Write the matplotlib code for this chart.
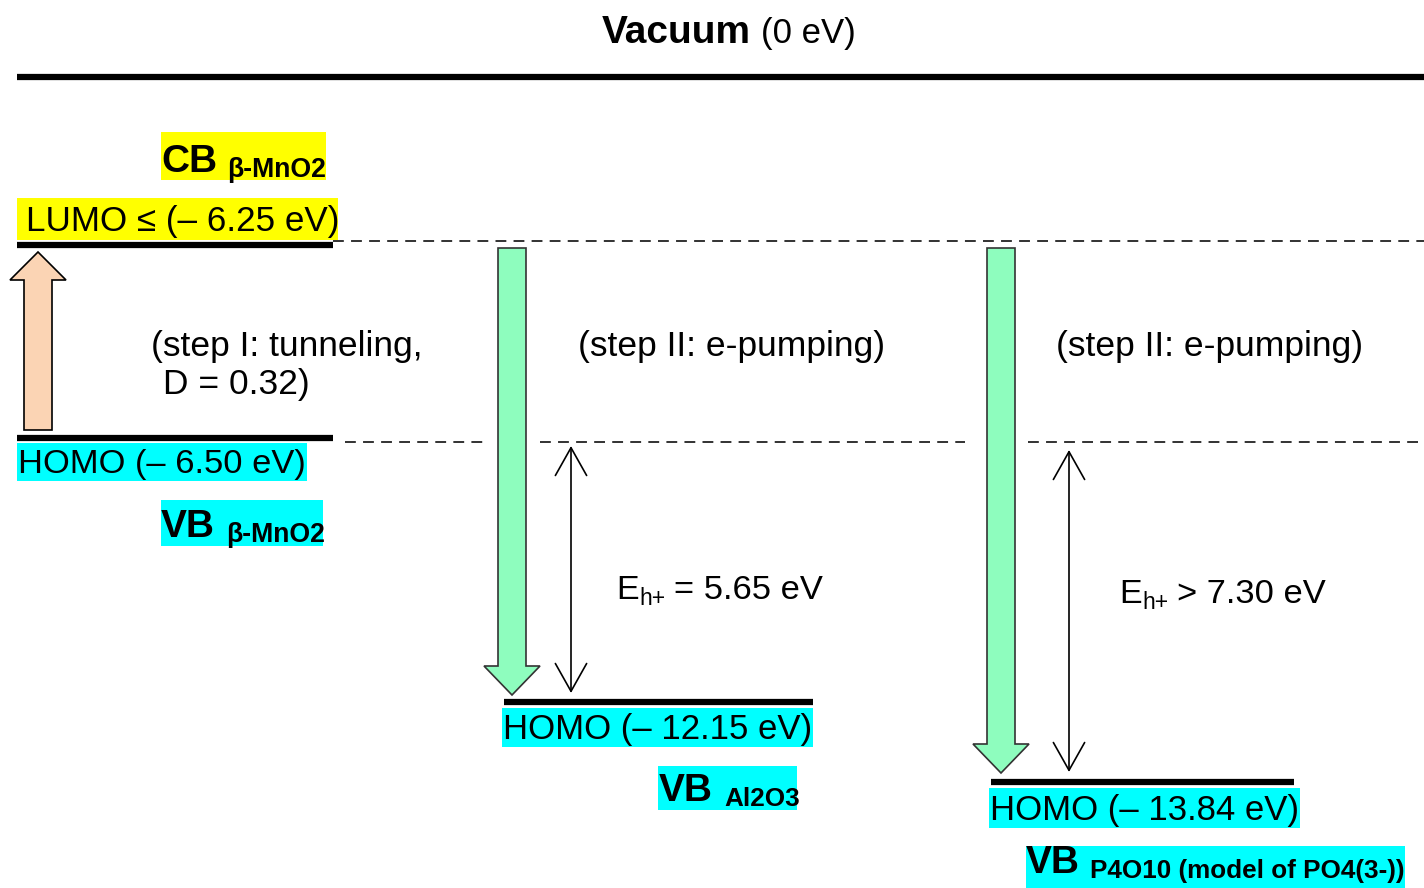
import matplotlib
matplotlib.use("Agg")
import matplotlib.pyplot as plt
from matplotlib.patches import Rectangle, FancyArrow

plt.rcParams['font.family'] = ['Liberation Sans', 'DejaVu Sans']

# Energy levels (eV)
level_names = ['LUMO', 'HOMO', 'HOMO', 'HOMO']
level_energies = [-6.25, -6.50, -12.15, -13.84]
level_relation = ['≤ ', '', '', '']
band_names = ['CB', 'VB', 'VB', 'VB']
band_materials = ['β-MnO2', 'β-MnO2', 'Al2O3', 'P4O10 (model of PO4(3-))']
hole_energies = [5.65, 7.30]
hole_relation = ['=', '>']
step_labels = ['(step I: tunneling,', '(step II: e-pumping)', '(step II: e-pumping)']
tunneling_D = 0.32

# Layout in pixel units (y grows downwards)
level_y = [245, 438, 702, 782]
level_x = [(17, 333), (17, 333), (504, 813), (991, 1294)]
label_box = [(17, 198, 338, 240), (17, 443, 307, 481), (502, 708, 813, 747), (989, 788, 1300, 828)]
label_x = [26, 18, 503, 990]
label_size = [25.2, 24.8, 25, 25]
label_colors = ['#ffff00', '#00ffff', '#00ffff', '#00ffff']
band_box = [(161, 132, 326, 180), (161, 500, 323, 546), (658, 766, 797, 810), (1026, 846, 1405, 888)]
band_x = [161, 161, 659, 1026]
band_base = [172, 537, 801, 873]
sub_x = [227, 226, 724, 1090]
sub_size = [19.2, 19.2, 18.8, 18.8]

fig = plt.figure(figsize=(14.24, 8.88), dpi=100)
ax = fig.add_axes([0, 0, 1, 1])
ax.set_xlim(0, 1424)
ax.set_ylim(888, 0)
ax.axis('off')

# Vacuum level
ax.plot([17, 1424], [77, 77], color='black', lw=4.5, solid_capstyle='butt')
ax.text(602, 43, 'Vacuum', fontsize=28, fontweight='bold', va='baseline')
ax.text(761, 43, '(0 eV)', fontsize=25, va='baseline')

# Dashed reference lines at the β-MnO2 levels
ax.plot([333, 1424], [241, 241], color='#222222', lw=1.3, dashes=(6, 4))
for x0, x1 in [(345, 485), (540, 965), (1028, 1424)]:
    ax.plot([x0, x1], [442, 442], color='#222222', lw=1.3, dashes=(6, 4))

# Energy levels with labels
for i in range(len(level_energies)):
    x0, x1 = level_x[i]
    ax.plot([x0, x1], [level_y[i], level_y[i]], color='black', lw=4.5, solid_capstyle='butt')
    bx0, by0, bx1, by1 = label_box[i]
    ax.add_patch(Rectangle((bx0, by0), bx1 - bx0, by1 - by0, facecolor=label_colors[i], edgecolor='none'))
    txt = f'{level_names[i]} {level_relation[i]}(– {abs(level_energies[i]):.2f} eV)'
    ax.text(label_x[i], (by0 + by1) / 2 + 2, txt, fontsize=label_size[i], va='center')

# Band labels (CB / VB with material subscript)
for i in range(len(band_names)):
    bx0, by0, bx1, by1 = band_box[i]
    ax.add_patch(Rectangle((bx0, by0), bx1 - bx0, by1 - by0, facecolor=label_colors[min(i, 1)], edgecolor='none'))
    ax.text(band_x[i], band_base[i], band_names[i], fontsize=28, fontweight='bold', va='baseline')
    ax.text(sub_x[i], band_base[i] + 5, band_materials[i], fontsize=sub_size[i], fontweight='bold', va='baseline')

# Step I arrow (tunneling) and step II arrows (e-pumping)
ax.add_patch(FancyArrow(38, 430, 0, -178, width=28, head_width=56, head_length=28,
                        length_includes_head=True, facecolor='#fbd4b4', edgecolor='black', lw=1.2))
for x, tip in [(512, 695), (1001, 773)]:
    ax.add_patch(FancyArrow(x, 248, 0, tip - 248, width=28, head_width=56, head_length=29,
                            length_includes_head=True, facecolor='#8efdbe', edgecolor='#333333', lw=1.2))

ax.text(151, 356, step_labels[0], fontsize=25.5, va='baseline')
ax.text(163, 394, f'D = {tunneling_D:.2f})', fontsize=25.5, va='baseline')
ax.text(578, 356, step_labels[1], fontsize=25.5, va='baseline')
ax.text(1056, 356, step_labels[2], fontsize=25.5, va='baseline')

# Hole energies with double-headed arrows
for x, y0, y1, tx, ty, rel, e in [(571, 446, 693, 616, 599, hole_relation[0], hole_energies[0]),
                                  (1069, 450, 772, 1119, 603, hole_relation[1], hole_energies[1])]:
    ax.annotate('', xy=(x, y0), xytext=(x, y1),
                arrowprops=dict(arrowstyle='<->,head_length=0.8,head_width=0.45', lw=1.2,
                                mutation_scale=25, shrinkA=0, shrinkB=0, color='black'))
    ax.text(tx, ty, 'E', fontsize=24.5, va='baseline')
    ax.text(tx + 23, ty + 6, 'h+', fontsize=16.5, va='baseline')
    ax.text(tx + 58, ty, f'{rel} {e:.2f} eV', fontsize=24.8, va='baseline')

fig.savefig('out.png', dpi=100)
